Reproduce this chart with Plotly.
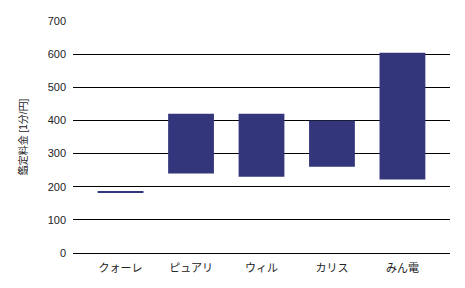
import plotly.graph_objects as go

categories = ["クォーレ", "ピュアリ", "ウィル", "カリス", "みん電"]
low_values = [183, 240, 230, 260, 222]
high_values = [186, 420, 420, 400, 604]
y_ticks = [0, 100, 200, 300, 400, 500, 600, 700]

heights = [h - l for h, l in zip(high_values, low_values)]

fig = go.Figure(go.Bar(
    x=categories,
    y=heights,
    base=low_values,
    width=0.65,
    marker=dict(color="#33367a", line=dict(width=0)),
))

font_family = "Liberation Sans, Arial, Noto Sans CJK JP, sans-serif"
fig.update_layout(
    width=465, height=288,
    margin=dict(l=73, r=15, t=21, b=35),
    paper_bgcolor="white", plot_bgcolor="white",
    showlegend=False,
    font=dict(family=font_family, size=11, color="#222222"),
    xaxis=dict(showgrid=False, showline=False, ticks="", tickfont=dict(size=11),
               range=[-0.675, 4.675], ticklabelstandoff=7),
    yaxis=dict(
        range=[0, 700], tickvals=y_ticks, showgrid=True, gridcolor="#000000",
        gridwidth=1, zeroline=True, zerolinecolor="#000000", zerolinewidth=1,
        showline=False, ticks="",
        tickfont=dict(size=11), ticklabelstandoff=6,
        title=dict(text="鑑定料金 [1分/円]", font=dict(size=10), standoff=18),
    ),
)

fig.write_html("out.html")
